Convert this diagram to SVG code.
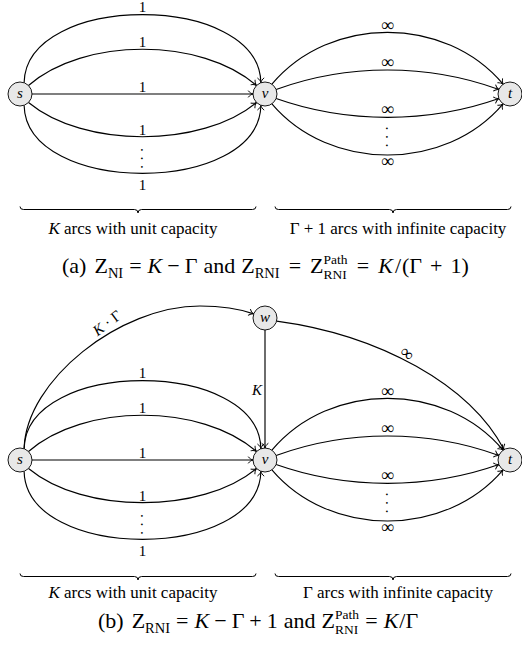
<svg xmlns="http://www.w3.org/2000/svg" width="522" height="650" viewBox="0 0 522 650">
<style>
.e{fill:none;stroke:#000;stroke-width:1.15;marker-end:url(#arr)}
.n{fill:#e8e8e8;stroke:#000;stroke-width:0.9}
.nl{font-family:"Liberation Serif",serif;font-style:italic;font-size:15px;text-anchor:middle}
.lb{font-family:"Liberation Serif",serif;font-size:15px;text-anchor:middle}
.vd{font-family:"Liberation Serif",serif;font-size:15px;letter-spacing:4.7px}
.inf{font-family:"Liberation Serif",serif;font-size:18px;text-anchor:middle}
.br{fill:none;stroke:#000;stroke-width:1}
.tx{font-family:"Liberation Serif",serif;font-size:17px;text-anchor:middle}
.cap{font-family:"Liberation Serif",serif;font-size:22px}
.it{font-style:italic}
</style>
<defs>
<marker id="arr" viewBox="-6 -5 8 10" refX="0" refY="0" markerWidth="8" markerHeight="10" orient="auto" markerUnits="userSpaceOnUse">
<path d="M-4.8,-3.4 C-3.4,-1.3 -1.3,-0.3 0,0 C-1.3,0.3 -3.4,1.3 -4.8,3.4" fill="none" stroke="#000" stroke-width="0.95"/>
</marker>
</defs>
<g id="connectors">
<path class="e" d="M24.1,82.7 C26,-8 259,-8 260.9,82.7"/>
<path class="e" d="M28.5,85.5 C83.5,37.2 201.5,37.2 256.5,85.5"/>
<path class="e" d="M32,94 L253,94"/>
<path class="e" d="M28.5,102.5 C83.5,148.1 201.5,148.1 256.5,102.5"/>
<path class="e" d="M24.1,105.3 C26,196 259,196 260.9,105.3"/>
<path class="e" d="M271.9,84.2 C330,15 445,15 503.1,84.2"/>
<path class="e" d="M276.1,89.5 C347,63.5 428,63.5 498.9,89.5"/>
<path class="e" d="M276.1,98.5 C347,123.6 428,123.6 498.9,98.5"/>
<path class="e" d="M271.9,103.8 C330,172.1 445,172.1 503.1,103.8"/>
<path class="e" d="M24.1,448.7 C26,358 259,358 260.9,448.7"/>
<path class="e" d="M28.5,451.5 C83.5,403.2 201.5,403.2 256.5,451.5"/>
<path class="e" d="M32,460 L253,460"/>
<path class="e" d="M28.5,468.5 C83.5,514.1 201.5,514.1 256.5,468.5"/>
<path class="e" d="M24.1,471.3 C26,562 259,562 260.9,471.3"/>
<path class="e" d="M271.9,450.2 C330,381 445,381 503.1,450.2"/>
<path class="e" d="M276.1,455.5 C347,429.5 428,429.5 498.9,455.5"/>
<path class="e" d="M276.1,464.5 C347,489.6 428,489.6 498.9,464.5"/>
<path class="e" d="M271.9,469.8 C330,538.1 445,538.1 503.1,469.8"/>
<path class="e" d="M24.1,448.7 C26,380 120,306 200,306 C225,306 240,309 253.7,313.9"/>
<path class="e" d="M265,330 L265,448"/>
<path class="e" d="M276.6,321.1 C380,335 470,385 504,449.6"/>
</g>
<g id="edge-labels">
<text class="lb" x="142.5" y="11.5">1</text>
<text class="lb" x="142.5" y="46.5">1</text>
<text class="lb" x="142.5" y="91.5">1</text>
<text class="lb" x="142.5" y="135">1</text>
<text class="vd" transform="translate(142.5,148) rotate(90)" x="0" y="1.2">...</text>
<text class="lb" x="142.5" y="190">1</text>
<text class="inf" x="387.5" y="30.5">∞</text>
<text class="inf" x="387.5" y="67.5">∞</text>
<text class="inf" x="387.5" y="115.3">∞</text>
<text class="vd" transform="translate(387.5,126.5) rotate(90)" x="0" y="1.2">...</text>
<text class="inf" x="387.5" y="167">∞</text>
<text class="lb" x="142.5" y="377.5">1</text>
<text class="lb" x="142.5" y="412.5">1</text>
<text class="lb" x="142.5" y="457.5">1</text>
<text class="lb" x="142.5" y="501">1</text>
<text class="vd" transform="translate(142.5,514) rotate(90)" x="0" y="1.2">...</text>
<text class="lb" x="142.5" y="556">1</text>
<text class="inf" x="387.5" y="396.5">∞</text>
<text class="inf" x="387.5" y="433.5">∞</text>
<text class="inf" x="387.5" y="481.3">∞</text>
<text class="vd" transform="translate(387.5,492.5) rotate(90)" x="0" y="1.2">...</text>
<text class="inf" x="387.5" y="533">∞</text>
<text class="lb" transform="translate(110,327) rotate(-37)" x="0" y="0"><tspan class="it">K</tspan> · Γ</text>
<text class="lb" x="262" y="395" style="text-anchor:end"><tspan class="it">K</tspan></text>
<text class="inf" transform="translate(403.5,358) rotate(40)" x="0" y="0">∞</text>
</g>
<g id="node-s-a"><circle class="n" cx="20" cy="94" r="12"/><text class="nl" x="20" y="98">s</text></g>
<g id="node-v-a"><circle class="n" cx="265" cy="94" r="12"/><text class="nl" x="265" y="98">v</text></g>
<g id="node-t-a"><circle class="n" cx="510" cy="94" r="12"/><text class="nl" x="510" y="98">t</text></g>
<g id="node-s-b"><circle class="n" cx="20" cy="460" r="12"/><text class="nl" x="20" y="464">s</text></g>
<g id="node-w-b"><circle class="n" cx="265" cy="318" r="12"/><text class="nl" x="265" y="322">w</text></g>
<g id="node-v-b"><circle class="n" cx="265" cy="460" r="12"/><text class="nl" x="265" y="464">v</text></g>
<g id="node-t-b"><circle class="n" cx="510" cy="460" r="12"/><text class="nl" x="510" y="464">t</text></g>
<g id="braces">
<path class="br" d="M20,206.5 Q20,209.5 23.5,209.5 L134.5,209.5 Q138,209.5 138,213 Q138,209.5 141.5,209.5 L252.5,209.5 Q256,209.5 256,206.5"/>
<path class="br" d="M275,206.5 Q275,209.5 278.5,209.5 L389.5,209.5 Q393,209.5 393,213 Q393,209.5 396.5,209.5 L507.5,209.5 Q511,209.5 511,206.5"/>
<path class="br" d="M20,573.5 Q20,576.5 23.5,576.5 L134.5,576.5 Q138,576.5 138,580 Q138,576.5 141.5,576.5 L252.5,576.5 Q256,576.5 256,573.5"/>
<path class="br" d="M275,573.5 Q275,576.5 278.5,576.5 L389.5,576.5 Q393,576.5 393,580 Q393,576.5 396.5,576.5 L507.5,576.5 Q511,576.5 511,573.5"/>
</g>
<g id="texts">
<text class="tx" x="133" y="234"><tspan class="it">K</tspan> arcs with unit capacity</text>
<text class="tx" x="398" y="234">Γ + 1 arcs with infinite capacity</text>
<text class="tx" x="133" y="598"><tspan class="it">K</tspan> arcs with unit capacity</text>
<text class="tx" x="398" y="598">Γ arcs with infinite capacity</text>
<text class="cap" x="62" y="273">(a)<tspan dx="8">Z</tspan><tspan font-size="14.5" dy="5">NI</tspan><tspan dy="-5" dx="6">=</tspan><tspan dx="6" class="it">K</tspan><tspan dx="5">−</tspan><tspan dx="5">Γ</tspan><tspan dx="6">and</tspan><tspan dx="6">Z</tspan><tspan font-size="14.5" dy="5">RNI</tspan><tspan dy="-5" dx="9">=</tspan><tspan dx="9">Z</tspan><tspan font-size="13.5" dy="-9">Path</tspan><tspan font-size="13.5" dx="-24" dy="15">RNI</tspan><tspan dy="-6" dx="10">=</tspan><tspan dx="9" class="it">K</tspan><tspan dx="2">/</tspan><tspan dx="1">(Γ</tspan><tspan dx="8">+</tspan><tspan dx="8">1)</tspan></text>
<text class="cap" x="98" y="628">(b)<tspan dx="8">Z</tspan><tspan font-size="14.5" dy="5">RNI</tspan><tspan dy="-5" dx="6">=</tspan><tspan dx="6" class="it">K</tspan><tspan dx="5">−</tspan><tspan dx="5">Γ</tspan><tspan dx="5">+</tspan><tspan dx="5">1</tspan><tspan dx="6">and</tspan><tspan dx="6">Z</tspan><tspan font-size="13.5" dy="-9">Path</tspan><tspan font-size="13.5" dx="-24" dy="15">RNI</tspan><tspan dy="-6" dx="7">=</tspan><tspan dx="6" class="it">K</tspan><tspan dx="1">/Γ</tspan></text>
</g>
</svg>
